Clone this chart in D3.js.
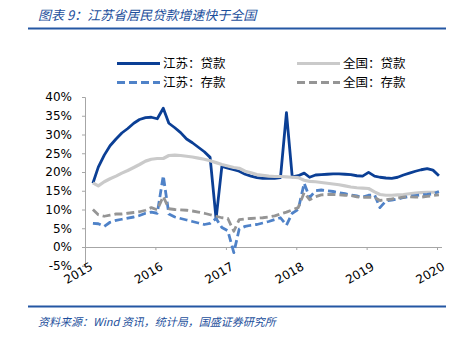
<!DOCTYPE html>
<html><head><meta charset="utf-8">
<script src="https://cdn.jsdelivr.net/npm/d3@7"></script>
<style>
html,body{margin:0;padding:0;background:#fff;}
svg{display:block;}
</style></head>
<body>
<svg id="c" width="459" height="340"></svg>
<script>
// Monthly data Feb 2015 – Jan 2020 (%, YoY)
const startYear = 2015, startMonth = 1; // Feb 2015
const jsLoan = [17.0,21.3,24.5,27.0,28.8,30.4,31.6,33.0,34.0,34.5,34.6,
  34.2,37.0,33.0,31.8,30.5,28.8,27.8,26.6,25.4,23.9,7.5,21.5,
  21.0,20.6,20.2,19.4,18.9,18.5,18.3,18.3,18.3,18.5,35.8,18.7,
  19.0,19.7,18.6,19.2,19.3,19.4,19.5,19.5,19.4,19.3,19.0,18.9,
  19.9,18.9,18.6,18.4,18.3,18.6,19.2,19.7,20.2,20.6,20.9,20.5,
  19.0];
const naLoan = [17.1,16.3,17.4,18.2,18.9,19.7,20.4,21.2,22.0,22.9,23.4,
  23.6,23.6,24.4,24.5,24.4,24.2,24.0,23.7,23.4,23.0,22.5,22.0,
  21.6,21.2,21.0,20.2,19.8,19.3,19.1,18.9,18.8,18.8,18.7,18.6,
  18.5,17.8,17.5,17.4,17.2,17.0,16.8,16.6,16.3,16.0,15.8,15.7,
  15.6,14.7,14.0,13.8,13.8,13.9,14.0,14.2,14.4,14.5,14.6,14.6,
  14.6];
const jsDep = [6.3,6.2,5.5,6.6,7.1,7.4,7.7,8.0,8.4,9.0,9.3,
  9.0,19.0,8.8,8.0,7.6,7.2,6.8,6.4,6.0,6.3,7.6,5.2,
  4.3,-1.5,4.8,5.5,5.8,6.0,6.4,6.8,7.3,7.8,5.8,9.0,
  10.0,17.0,13.2,15.0,15.2,15.0,14.8,14.5,14.2,13.9,13.6,13.3,
  13.8,13.9,10.5,12.3,12.5,12.8,13.2,13.5,13.7,13.9,14.0,14.2,
  14.8];
const naDep = [10.0,8.6,8.2,8.5,8.8,8.8,9.0,9.2,9.4,9.8,10.5,
  9.9,13.5,10.2,10.0,9.9,9.8,9.6,9.3,9.0,8.6,8.2,7.8,
  7.6,4.2,7.3,7.5,7.6,7.7,7.8,8.0,8.3,8.8,9.3,9.9,
  10.5,14.5,12.6,13.4,13.9,14.0,14.0,13.9,13.8,13.7,13.4,13.2,
  13.3,13.2,12.4,12.6,12.8,13.1,13.3,13.4,13.3,13.3,13.5,13.7,
  13.9];
const yTicks = [-5,0,5,10,15,20,25,30,35,40];
const xTickYears = [2015,2016,2017,2018,2019,2020];
const seriesNames = ["江苏：贷款","全国：贷款","江苏：存款","全国：存款"];
const titleText = "图表 9：江苏省居民贷款增速快于全国";
const sourceText = "资料来源：Wind 资讯，统计局，国盛证券研究所";

const dates = jsLoan.map((_, i) => new Date(startYear, startMonth + i, 11));

const svg = d3.select("#c");
const x = d3.scaleTime().domain([new Date(2015,0,1), new Date(2020,0,1)]).range([85, 437]);
const y = d3.scaleLinear().domain([-5, 40]).range([265.75, 97]);

const cjk = "'Noto Sans CJK SC','Noto Sans',sans-serif";
const hdrBlue = "#1d4f9c";

// title + rules
svg.append("text").attr("x", 38).attr("y", 20).attr("font-family", cjk)
  .attr("font-size", 13).attr("font-style", "italic").attr("fill", hdrBlue).text(titleText);
svg.append("line").attr("x1", 28).attr("x2", 446).attr("y1", 28.5).attr("y2", 28.5)
  .attr("stroke", "#2457a3").attr("stroke-width", 2);
svg.append("line").attr("x1", 28).attr("x2", 446).attr("y1", 306.5).attr("y2", 306.5)
  .attr("stroke", "#2457a3").attr("stroke-width", 2);
svg.append("text").attr("x", 38).attr("y", 326).attr("font-family", cjk)
  .attr("font-size", 11).attr("font-style", "italic").attr("fill", hdrBlue).text(sourceText);

// axes
const axisColor = "#a6a6a6";
const numFont = "'DejaVu Sans',Verdana,sans-serif";
const yAxis = svg.append("g").attr("transform", "translate(85,0)")
  .call(d3.axisLeft(y).tickValues(yTicks).tickSize(3).tickFormat(d => d + "%"));
yAxis.select(".domain").attr("stroke", axisColor);
yAxis.selectAll(".tick line").attr("stroke", axisColor);
yAxis.selectAll(".tick text").attr("font-family", numFont).attr("font-size", 12)
  .attr("fill", "#000").attr("x", -13);

const xAxis = svg.append("g").attr("transform", `translate(0,${y(0)})`)
  .call(d3.axisBottom(x).tickValues(xTickYears.map(v => new Date(v,0,1)))
    .tickSize(3).tickFormat(d3.timeFormat("%Y")));
xAxis.select(".domain").attr("d", `M85,0.5H442`).attr("stroke", axisColor);
xAxis.selectAll(".tick line").attr("stroke", axisColor);
xAxis.selectAll(".tick text").attr("font-family", numFont).attr("font-size", 12)
  .attr("fill", "#000").attr("text-anchor", "end")
  .attr("transform", "translate(8,22) rotate(-30)").attr("y", 0).attr("dy", 0);

// lines
const styles = [
  {data: jsLoan, color: "#0b3f95", w: 2.8, dash: null},
  {data: naLoan, color: "#cacaca", w: 3.2, dash: null},
  {data: jsDep, color: "#4f82c8", w: 2.8, dash: "8,4"},
  {data: naDep, color: "#959595", w: 2.8, dash: "8,4"}
];
const line = d3.line().x((d, i) => x(dates[i])).y(d => y(d));
styles.forEach(s => {
  svg.append("path").datum(s.data).attr("d", line).attr("fill", "none")
    .attr("stroke", s.color).attr("stroke-width", s.w)
    .attr("stroke-dasharray", s.dash).attr("stroke-linejoin", "round");
});

// legend
const legPos = [[117, 63.5], [297, 63.5], [117, 82.5], [297, 82.5]];
styles.forEach((s, i) => {
  const [lx, ly] = legPos[i];
  svg.append("line").attr("x1", lx).attr("x2", lx + 43).attr("y1", ly).attr("y2", ly)
    .attr("stroke", s.color).attr("stroke-width", s.w).attr("stroke-dasharray", s.dash);
  svg.append("text").attr("x", lx + 46).attr("y", ly + 4.5).attr("font-family", cjk)
    .attr("font-size", 12.5).attr("fill", "#000").text(seriesNames[i]);
});
</script>
</body></html>
